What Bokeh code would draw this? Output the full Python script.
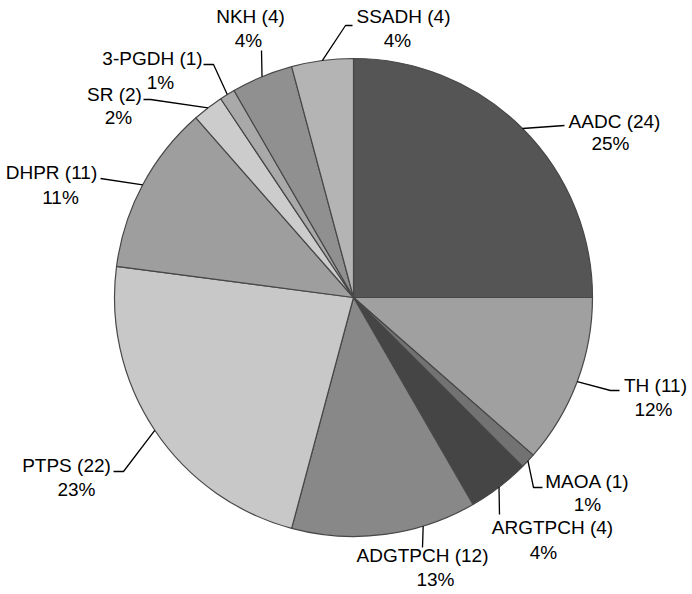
import math
from bokeh.plotting import figure
from bokeh.models import Range1d, ColumnDataSource
from bokeh.embed import file_html
from bokeh.resources import INLINE
from bokeh.core.properties import value

# ---------------- data ----------------
names = ["AADC", "TH", "MAOA", "ARGTPCH", "ADGTPCH", "PTPS", "DHPR", "SR", "3-PGDH", "NKH", "SSADH"]
counts = [24, 11, 1, 4, 12, 22, 11, 2, 1, 4, 4]
percents = [25, 12, 1, 4, 13, 23, 11, 2, 1, 4, 4]
colors = ["#555555", "#a0a0a0", "#727272", "#454545", "#888888", "#c8c8c8",
          "#9e9e9e", "#cccccc", "#a9a9a9", "#909090", "#b4b4b4"]

# ---------------- layout (screen pixel coords of the page) ----------------
PAGE_W, PAGE_H = 692, 594
def Y(sy):
    return PAGE_H - sy

CX, CY, R = 353, Y(297), 239
# attach fraction within slice, leader path after the attach point, text centres
layout = {
    "AADC":    dict(f=0.5,  path=[(564, 125)], l1=(614, 121), l2=(610, 143)),
    "TH":      dict(f=0.5,  path=[(610, 390), (619, 390)], l1=(655, 385), l2=(653, 409)),
    "MAOA":    dict(f=0.5,  path=[(533, 487), (542, 487)], l1=(587, 481), l2=(587, 504)),
    "ARGTPCH": dict(f=0.5,  path=[(499, 514)], l1=(552, 527), l2=(543, 552)),
    "ADGTPCH": dict(f=0.29, path=[(422, 547)], l1=(422, 555), l2=(435, 579)),
    "PTPS":    dict(f=0.5,  path=[(123, 471), (113, 471)], l1=(66, 465), l2=(76, 489)),
    "DHPR":    dict(f=0.5,  path=[(100, 178)], l1=(51, 172), l2=(60, 197)),
    "SR":      dict(f=0.5,  path=[(150, 99), (143, 99)], l1=(114, 94), l2=(118, 117)),
    "3-PGDH":  dict(f=0.5,  path=[(213, 64), (203, 64)], l1=(152, 58), l2=(160, 82)),
    "NKH":     dict(f=0.5,  path=[(261, 50)], l1=(250, 16), l2=(248, 40)),
    "SSADH":   dict(f=0.5,  path=[(345, 25), (352, 25)], l1=(403, 16), l2=(397, 40)),
}

total = sum(counts)
starts, ends = [], []
cum = 0
for c in counts:
    starts.append(math.radians(90 - cum / total * 360))
    cum += c
    ends.append(math.radians(90 - cum / total * 360))

p = figure(width=PAGE_W, height=PAGE_H, x_range=Range1d(0, PAGE_W), y_range=Range1d(0, PAGE_H),
           output_backend="svg", toolbar_location=None, min_border=0,
           x_axis_type=None, y_axis_type=None)
p.grid.visible = False
p.outline_line_color = None
p.background_fill_color = "white"

src = ColumnDataSource(dict(start=starts, end=ends, color=colors, name=names))
p.wedge(x=CX, y=CY, radius=R, start_angle="start", end_angle="end", direction="clock",
        fill_color="color", line_color="#474747", line_width=1.2, source=src)

xs, ys = [], []
tx, ty, tt = [], [], []
cum = 0
for n, c, pc in zip(names, counts, percents):
    L = layout[n]
    th = math.radians((cum + L["f"] * c) / total * 360)
    ax, ay = CX + R * math.sin(th), CY + R * math.cos(th)
    lx = [ax] + [pt[0] for pt in L["path"]]
    ly = [ay] + [Y(pt[1]) for pt in L["path"]]
    xs.append(lx)
    ys.append(ly)
    tx += [L["l1"][0], L["l2"][0]]
    ty += [Y(L["l1"][1]), Y(L["l2"][1])]
    tt += [f"{n} ({c})", f"{pc}%"]
    cum += c

p.multi_line(xs=xs, ys=ys, line_color="black", line_width=1.3)
p.text(x=tx, y=ty, text=tt, text_align="center", text_baseline="middle",
       text_font=value("Liberation Sans"), text_font_size="19px", text_color="black")

open("out.html", "w").write(file_html(p, INLINE))
